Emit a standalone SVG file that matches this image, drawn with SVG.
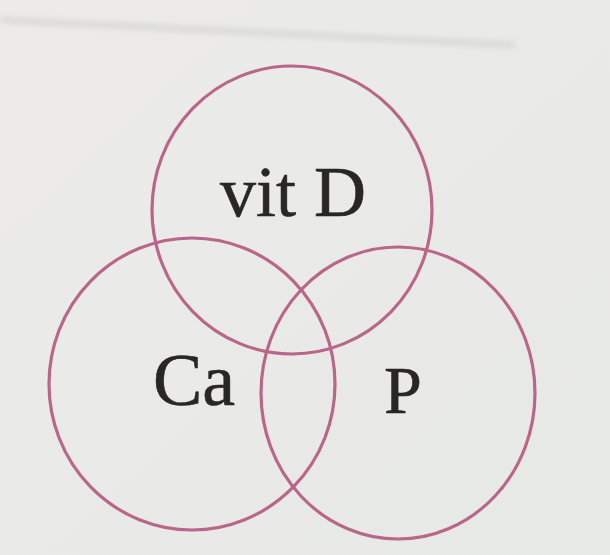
<svg xmlns="http://www.w3.org/2000/svg" width="610" height="555" viewBox="0 0 610 555">
  <defs>
    <style>
      .ring { fill: none; stroke: #b9668a; stroke-width: 3.2; }
      .lbl { font-family: "Liberation Serif", "Times New Roman", serif; fill: #2a2624; stroke: #2a2624; stroke-width: 0.6; }
    </style>
    <filter id="blur" x="-10%" y="-200%" width="120%" height="500%">
      <feGaussianBlur stdDeviation="3"/>
    </filter>
    <linearGradient id="bg" x1="0" y1="0" x2="1" y2="1">
      <stop offset="0" stop-color="#ecebea"/>
      <stop offset="1" stop-color="#e7e9e5"/>
    </linearGradient>
  </defs>
  <rect width="610" height="555" fill="url(#bg)"/>
  <line x1="0" y1="20" x2="515" y2="45" stroke="#cfcfcd" stroke-width="4" filter="url(#blur)"/>
  <g id="circles">
    <g id="vitD">
      <ellipse class="ring" cx="292" cy="210" rx="140" ry="144"/>
      <text class="lbl" x="220" y="216" font-size="72">vit D</text>
    </g>
    <g id="Ca">
      <ellipse class="ring" cx="192" cy="384" rx="143" ry="146"/>
      <text class="lbl" x="153" y="405" font-size="74">Ca</text>
    </g>
    <g id="P">
      <ellipse class="ring" cx="398" cy="393" rx="137" ry="146"/>
      <text class="lbl" x="384" y="413" font-size="68">P</text>
    </g>
  </g>
</svg>
